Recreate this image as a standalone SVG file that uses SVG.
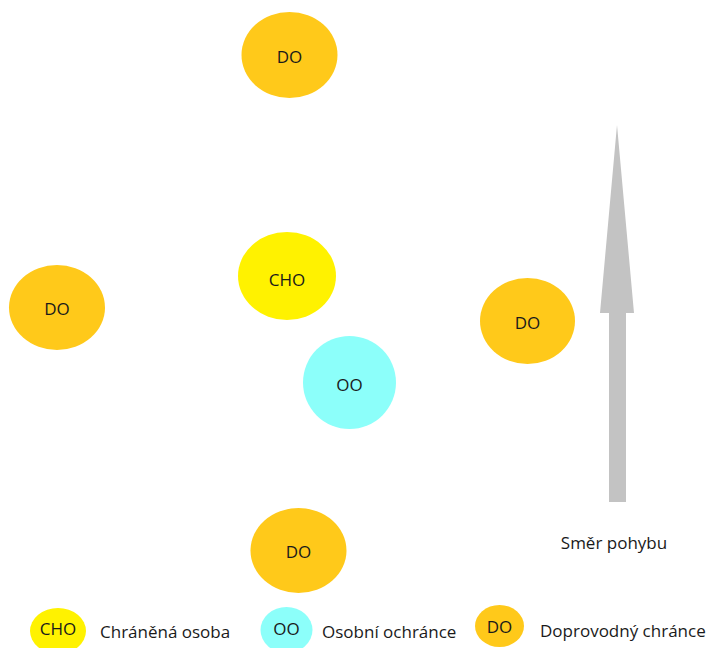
<svg xmlns="http://www.w3.org/2000/svg" width="710" height="648" viewBox="0 0 710 648">
<style>
text{font-family:"Open Sans","Noto Sans","DejaVu Sans",sans-serif;fill:#1a1a1a;}
.lbl{font-size:17px;text-anchor:middle;dominant-baseline:central;}
.leg{font-size:17px;dominant-baseline:central;}
.do{fill:#FFC91A;}
.cho{fill:#FFF200;}
.oo{fill:#8CFFFA;}
</style>
<rect width="710" height="648" fill="#ffffff"/>
<g id="connectors"></g>
<g id="do-top"><ellipse class="do" cx="289.5" cy="55" rx="48" ry="43"/><text class="lbl" x="289.5" y="56">DO</text></g>
<g id="do-left"><ellipse class="do" cx="57" cy="307.5" rx="48" ry="42.5"/><text class="lbl" x="57" y="308">DO</text></g>
<g id="do-right"><ellipse class="do" cx="527.5" cy="321" rx="47.5" ry="43"/><text class="lbl" x="527.5" y="322">DO</text></g>
<g id="do-bottom"><ellipse class="do" cx="298.5" cy="550.5" rx="48" ry="42.5"/><text class="lbl" x="298.5" y="551">DO</text></g>
<g id="cho"><ellipse class="cho" cx="287" cy="276" rx="49" ry="44"/><text class="lbl" x="287" y="279">CHO</text></g>
<g id="oo"><ellipse class="oo" cx="349.5" cy="382.5" rx="46.5" ry="46.5"/><text class="lbl" x="349.5" y="384">OO</text></g>
<g id="arrow">
<polygon points="617,125 634,313 626,313 626,502 609,502 609,313 600,313" fill="#C3C3C3"/>
<text class="leg" x="614" y="542" text-anchor="middle">Směr pohybu</text>
</g>
<g id="legend-cho"><ellipse class="cho" cx="58" cy="631" rx="28" ry="23"/><text class="lbl" x="58" y="628">CHO</text><text class="leg" x="100" y="631">Chráněná osoba</text></g>
<g id="legend-oo"><ellipse class="oo" cx="286.5" cy="630" rx="26" ry="23"/><text class="lbl" x="286.5" y="628">OO</text><text class="leg" x="322" y="631">Osobní ochránce</text></g>
<g id="legend-do"><ellipse class="do" cx="499.5" cy="626" rx="24.5" ry="21"/><text class="lbl" x="499.5" y="626">DO</text><text class="leg" x="540" y="630">Doprovodný chránce</text></g>
</svg>
